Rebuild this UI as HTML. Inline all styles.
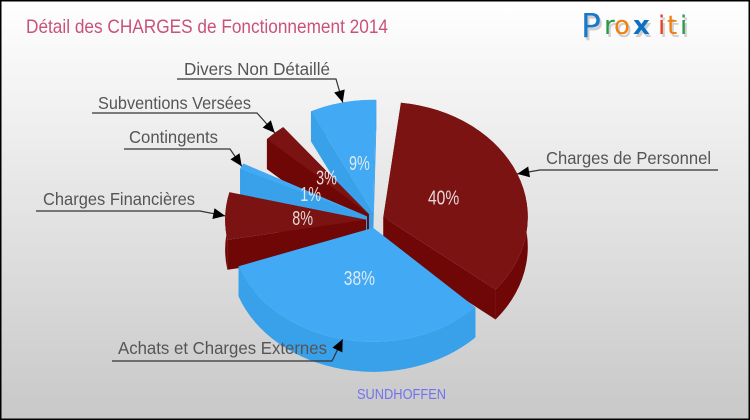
<!DOCTYPE html>
<html lang="fr">
<head>
<meta charset="utf-8">
<title>Détail des CHARGES de Fonctionnement 2014</title>
<style>
html,body{margin:0;padding:0;background:#fff;}
svg{display:block;}
text{font-family:"Liberation Sans",sans-serif;}
.lbl{font-size:17.5px;fill:#555;}
.pct{font-size:20px;fill:#f2f2f2;fill-opacity:.88;text-anchor:middle;}
.logo text{font-family:"DejaVu Sans",sans-serif;}
</style>
</head>
<body>
<svg id="chart" width="750" height="420" viewBox="0 0 750 420" xmlns="http://www.w3.org/2000/svg">
  <defs>
    <linearGradient id="bg" x1="0" y1="0" x2="0" y2="1">
      <stop offset="0" stop-color="#ffffff"/>
      <stop offset="1" stop-color="#c8c8c8"/>
    </linearGradient>
  </defs>
  <rect x="0.75" y="0.75" width="748.5" height="418.5" fill="url(#bg)" stroke="#000" stroke-width="1.5"/>
  <text x="26" y="33" font-size="19.5" fill="#c9527c" textLength="362" lengthAdjust="spacingAndGlyphs">Détail des CHARGES de Fonctionnement 2014</text>
  <g class="logo">
    <g fill="#cfcfcf" transform="translate(2,3)">
      <text x="581" y="37" font-size="33">P</text><text x="604" y="34" font-size="26">r</text><text x="614" y="34" font-size="26">o</text><text x="633" y="34" font-size="26" font-weight="bold">x</text><text x="658" y="34" font-size="26">i</text><text x="667" y="34" font-size="26">t</text><text x="680" y="34" font-size="26">i</text>
    </g>
    <text x="581" y="37" font-size="33" fill="#1a78c8">P</text>
    <text x="604" y="34" font-size="26" fill="#2a9a4a">r</text>
    <text x="614" y="34" font-size="26" fill="#f08010">o</text>
    <text x="633" y="34" font-size="26" font-weight="bold" fill="#0c70c4">x</text>
    <text x="658" y="34" font-size="26" fill="#e84020">i</text>
    <text x="667" y="34" font-size="26" fill="#f08010">t</text>
    <text x="680" y="34" font-size="26" fill="#2a9a4a">i</text>
  </g>
  <g id="slices"></g>
  <g id="callouts"></g>
  <g id="pcts"></g>
  <text x="357" y="399" font-size="15" fill="#7272ee" textLength="89" lengthAdjust="spacingAndGlyphs">SUNDHOFFEN</text>
</svg>
<script>
// Chart data
const categories = ['Charges de Personnel', 'Achats et Charges Externes', 'Charges Financières', 'Contingents', 'Subventions Versées', 'Divers Non Détaillé'];
const seriesValues = [40, 38, 8, 1, 3, 9];
const printedValues = ['40%', '38%', '8%', '1%', '3%', '9%'];
const sliceTones = ['red', 'blue', 'red', 'blue', 'red', 'blue'];

// Layout (not data)
const NS = 'http://www.w3.org/2000/svg';
const cx = 375, cy = 220, rx = 143, ry = 114, depth = 30;
const explodeX = 9, explodeY = 8;
const firstStart = -83;
const gapAfter = [5.3, 9.5, 11, 14.5, 12, 5.7];
const radiusScale = [1.01, 1, 0.985, 0.98, 0.97, 0.985];
const palette = {
  red: {top: '#7b1313', wall: '#6f0707'},
  blue: {top: '#42a9f5', wall: '#39a0ea'}
};
const calloutLayout = [
  {tx: 546, ty: 164, tw: 165, lineFrom: 718, lineTo: 540, ly: 170},
  {tx: 118, ty: 354, tw: 209, lineFrom: 112, lineTo: 332, ly: 361},
  {tx: 43, ty: 205, tw: 152, lineFrom: 36, lineTo: 200, ly: 211},
  {tx: 129, ty: 143, tw: 89, lineFrom: 124, lineTo: 230, ly: 149},
  {tx: 98, ty: 109, tw: 153, lineFrom: 92, lineTo: 257, ly: 113},
  {tx: 184, ty: 75, tw: 146, lineFrom: 177, lineTo: 336, ly: 79}
];

// Axis functions
const total = seriesValues.reduce((a, b) => a + b, 0);
const gapTotal = gapAfter.reduce((a, b) => a + b, 0);
const degPerUnit = (360 - gapTotal) / total;
const rad = d => d * Math.PI / 180;
const px = (a, t, k = 1) => a.x + rx * a.s * k * Math.cos(rad(t));
const py = (a, t, k = 1) => a.y + ry * a.s * k * Math.sin(rad(t));
const f = n => n.toFixed(2);

let cursor = firstStart;
const geometry = seriesValues.map((v, i) => {
  const t0 = cursor;
  const t1 = t0 + v * degPerUnit;
  cursor = t1 + gapAfter[i];
  const mid = (t0 + t1) / 2;
  const apex = {x: cx + explodeX * Math.cos(rad(mid)), y: cy + explodeY * Math.sin(rad(mid)), s: radiusScale[i]};
  return {i, t0, t1, mid, apex};
});

function arc(a, t0, t1, dy) {
  const large = (t1 - t0) > 180 ? 1 : 0;
  return 'A' + f(rx * a.s) + ' ' + f(ry * a.s) + ' 0 ' + large + ' 1 ' + f(px(a, t1)) + ' ' + f(py(a, t1) + dy);
}
function arcBack(a, t0, t1, dy) {
  const large = (t1 - t0) > 180 ? 1 : 0;
  return 'A' + f(rx * a.s) + ' ' + f(ry * a.s) + ' 0 ' + large + ' 0 ' + f(px(a, t0)) + ' ' + f(py(a, t0) + dy);
}
function quad(a, t) {
  return 'M' + f(a.x) + ' ' + f(a.y) + 'L' + f(px(a, t)) + ' ' + f(py(a, t)) +
    'L' + f(px(a, t)) + ' ' + f(py(a, t) + depth) + 'L' + f(a.x) + ' ' + f(a.y + depth) + 'Z';
}

const slicesG = document.getElementById('slices');
const order = geometry.slice().sort((p, q) => Math.sin(rad(p.mid)) - Math.sin(rad(q.mid)));
order.forEach(g => {
  const a = g.apex;
  const col = palette[sliceTones[g.i]];
  const group = document.createElementNS(NS, 'g');
  
  
  const startPt = f(px(a, g.t0)) + ' ' + f(py(a, g.t0));
  const wallPaths = [
    quad(a, g.t0),
    quad(a, g.t1),
    'M' + startPt + arc(a, g.t0, g.t1, 0) + 'L' + f(px(a, g.t1)) + ' ' + f(py(a, g.t1) + depth) + arcBack(a, g.t0, g.t1, depth) + 'Z'
  ];
  wallPaths.forEach(d => {
    const w = document.createElementNS(NS, 'path');
    
    
    w.setAttribute('d', d);
    w.setAttribute('fill', col.wall);
    group.appendChild(w);
  });
  const top = document.createElementNS(NS, 'path');
  
  
  top.setAttribute('d', 'M' + f(a.x) + ' ' + f(a.y) + 'L' + startPt + arc(a, g.t0, g.t1, 0) + 'Z');
  top.setAttribute('fill', col.top);
  group.appendChild(top);
  slicesG.appendChild(group);
});

const pctsG = document.getElementById('pcts');
geometry.forEach(g => {
  const t = document.createElementNS(NS, 'text');
  
  
  t.setAttribute('class', 'pct');
  t.setAttribute('x', f(px(g.apex, g.mid, 0.45)));
  t.setAttribute('y', f(py(g.apex, g.mid, 0.45) + 7));
  t.setAttribute('textLength', f(printedValues[g.i].length * 10.4));
  t.setAttribute('lengthAdjust', 'spacingAndGlyphs');
  t.textContent = printedValues[g.i];
  pctsG.appendChild(t);
});

const calloutsG = document.getElementById('callouts');
geometry.forEach(g => {
  const c = calloutLayout[g.i];
  const tipX = px(g.apex, g.mid), tipY = py(g.apex, g.mid);
  const label = document.createElementNS(NS, 'text');
  
  
  label.setAttribute('class', 'lbl');
  label.setAttribute('x', c.tx);
  label.setAttribute('y', c.ty);
  label.setAttribute('textLength', c.tw);
  label.setAttribute('lengthAdjust', 'spacingAndGlyphs');
  label.textContent = categories[g.i];
  calloutsG.appendChild(label);

  const line = document.createElementNS(NS, 'polyline');
  
  
  line.setAttribute('points', c.lineFrom + ',' + c.ly + ' ' + c.lineTo + ',' + c.ly + ' ' + f(tipX) + ',' + f(tipY));
  line.setAttribute('fill', 'none');
  line.setAttribute('stroke', '#333');
  line.setAttribute('stroke-width', '1.2');
  calloutsG.appendChild(line);

  const dx = tipX - c.lineTo, dy = tipY - c.ly;
  const len = Math.hypot(dx, dy) || 1;
  const ux = dx / len, uy = dy / len;
  const headL = 12, headW = 5.5;
  const bx = tipX - ux * headL, by = tipY - uy * headL;
  const head = document.createElementNS(NS, 'polygon');
  
  
  head.setAttribute('points', f(tipX) + ',' + f(tipY) + ' ' + f(bx - uy * headW) + ',' + f(by + ux * headW) + ' ' + f(bx + uy * headW) + ',' + f(by - ux * headW));
  head.setAttribute('fill', '#000');
  calloutsG.appendChild(head);
});
</script>
</body>
</html>
